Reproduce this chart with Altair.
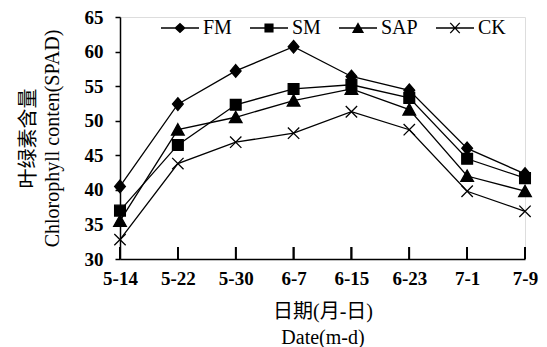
import altair as alt
import pandas as pd

dates = ["5-14", "5-22", "5-30", "6-7", "6-15", "6-23", "7-1", "7-9"]
series = ["FM", "SM", "SAP", "CK"]
FM = [40.5, 52.4, 57.2, 60.7, 56.4, 54.4, 46.0, 42.3]
SM = [37.0, 46.5, 52.3, 54.6, 55.2, 53.3, 44.5, 41.7]
SAP = [35.5, 48.7, 50.5, 52.9, 54.6, 51.6, 42.0, 39.8]
CK = [32.8, 43.8, 46.9, 48.2, 51.3, 48.7, 39.8, 36.9]
y_ticks = [30, 35, 40, 45, 50, 55, 60, 65]

rows = []
for name, vals in zip(series, [FM, SM, SAP, CK]):
    for d, v in zip(dates, vals):
        rows.append({"date": d, "series": name, "value": v})
df = pd.DataFrame(rows)

FONT = "Liberation Serif, Noto Sans CJK SC"

plot_paths = [
    "M0,-1L0.85,0L0,1L-0.85,0Z",
    "M-0.85,-0.85H0.85V0.85H-0.85Z",
    "M0,-0.95L1,0.85L-1,0.85Z",
    "M-0.9,-0.9L0.9,0.9M-0.9,0.9L0.9,-0.9",
]
LINE = "M-1,-0.035H1V0.035H-1Z"
legend_paths = [
    LINE + "M0,-0.28L0.3,0L0,0.28L-0.3,0Z",
    LINE + "M-0.24,-0.24H0.24V0.24H-0.24Z",
    LINE + "M0,-0.3L0.32,0.26L-0.32,0.26Z",
    LINE
    + "M-0.276,-0.246L-0.224,-0.294L0.276,0.246L0.224,0.294Z"
    + "M-0.224,0.294L-0.276,0.246L0.224,-0.294L0.276,-0.246Z",
]

x_enc = alt.X(
    "date:N",
    sort=dates,
    scale=alt.Scale(type="point", padding=0),
    axis=alt.Axis(
        title=["日期(月-日)", "Date(m-d)"],
        labelAngle=0,
        ticks=False,
        labelPadding=10,
        labelFont=FONT,
        labelFontSize=19,
        labelFontWeight="bold",
        labelColor="black",
        domainColor="black",
        domainWidth=1.5,
        titleFont=FONT,
        titleFontSize=20,
        titleFontWeight="normal",
        titleColor="black",
        titleLineHeight=26,
        titlePadding=13,
    ),
)
y_enc = alt.Y(
    "value:Q",
    scale=alt.Scale(domain=[30, 65], nice=False, zero=False),
    axis=alt.Axis(
        values=y_ticks,
        title=["叶绿素含量", "Chlorophyll conten(SPAD)"],
        grid=False,
        tickSize=5,
        tickColor="black",
        tickWidth=1.5,
        labelPadding=12,
        labelFont=FONT,
        labelFontSize=19,
        labelFontWeight="bold",
        labelColor="black",
        domainColor="black",
        domainWidth=1.5,
        titleFont=FONT,
        titleFontSize=20,
        titleFontWeight="normal",
        titleColor="black",
        titleLineHeight=24,
        titlePadding=22,
    ),
)

base = alt.Chart(df)

ticks = base.mark_rule(color="black", strokeWidth=1.5).encode(
    x=x_enc, y=alt.value(242), y2=alt.value(230)
)

lines = base.mark_line(color="black", strokeWidth=1.3).encode(
    x=x_enc, y=y_enc, detail="series:N"
)

points = base.mark_point(
    filled=True, fill="black", stroke="black", strokeWidth=1.3, size=160, opacity=1
).encode(
    x=x_enc,
    y=y_enc,
    shape=alt.Shape(
        "series:N", scale=alt.Scale(domain=series, range=plot_paths), legend=None
    ),
)

legend_layer = base.transform_filter("false").mark_point(
    filled=True, fill="black", size=1444, opacity=1
).encode(
    x=x_enc,
    y=y_enc,
    shape=alt.Shape(
        "series:N",
        scale=alt.Scale(domain=series, range=legend_paths),
        legend=alt.Legend(
            title=None,
            orient="none",
            direction="horizontal",
            legendX=40,
            legendY=-9,
            symbolSize=1444,
            symbolFillColor="black",
            labelFont=FONT,
            labelFontSize=20,
            labelColor="black",
            labelOffset=3,
            columnPadding=15,
            padding=0,
        ),
    ),
)

chart = (
    alt.layer(ticks, lines, points, legend_layer)
    .resolve_scale(shape="independent")
    .resolve_legend(shape="independent")
    .properties(
        width=405,
        height=242,
        autosize=alt.AutoSizeParams(type="none"),
        padding={"left": 112, "top": 9, "right": 14, "bottom": 88},
    )
    .configure_view(stroke=None)
    .configure(background="white")
)

chart.save("out.html", embed_options={"renderer": "svg", "actions": False})
